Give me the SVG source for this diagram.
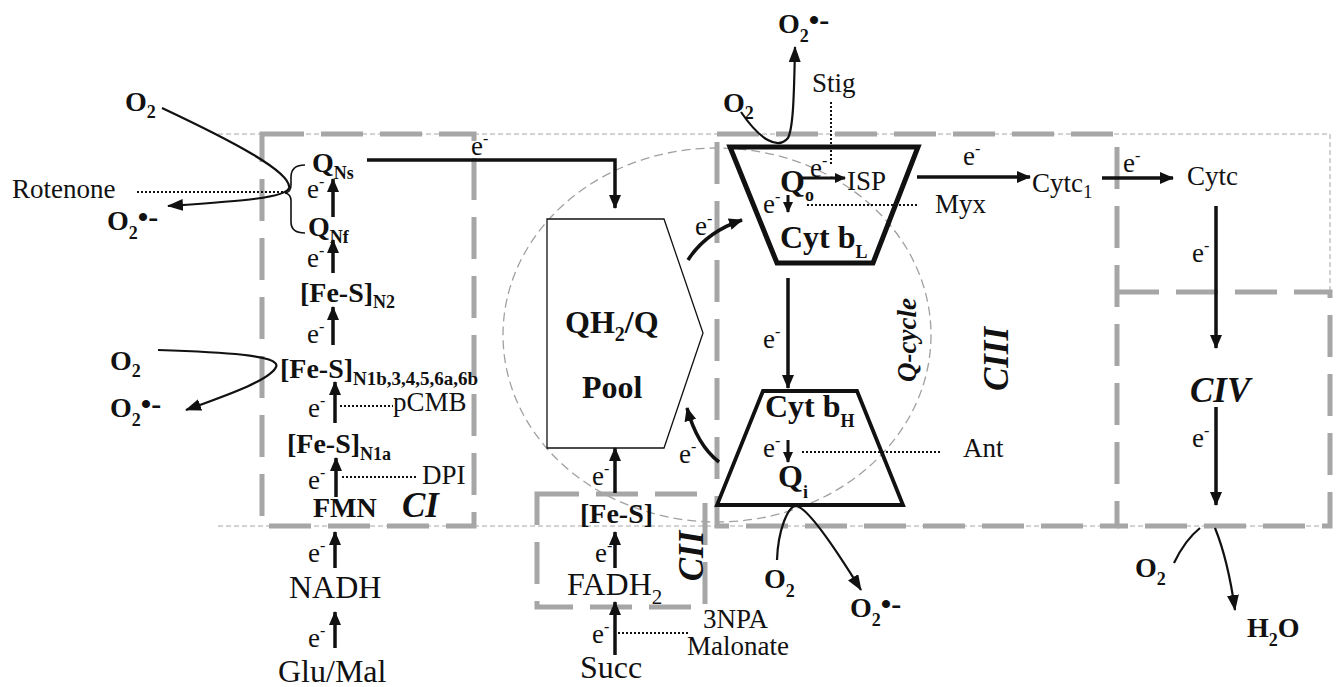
<svg xmlns="http://www.w3.org/2000/svg" width="1337" height="687" viewBox="0 0 1337 687">
<style>
text{font-family:"Liberation Serif","Times New Roman",serif;fill:#111}
.b{font-weight:bold;font-size:28px}
.bb{font-weight:bold;font-size:32px}
.r{font-size:27px}
.big{font-size:32px}
.e{font-size:27px}
.sup{font-size:16px}
.sb{font-size:18px;font-weight:bold}
.sr{font-size:19px}
.rad{font-size:30px;font-weight:bold}
.cx{font-weight:bold;font-style:italic;font-size:35px}
.box{fill:none;stroke:#a6a6a6;stroke-width:5;stroke-dasharray:42 17}
.mem{fill:none;stroke:#a8a8a8;stroke-width:1;stroke-dasharray:5 3}
.qc{fill:none;stroke:#a0a0a0;stroke-width:1.3;stroke-dasharray:9 5}
.arr{fill:none;stroke:#111;stroke-width:3.5;marker-end:url(#ah)}
.arrs{fill:none;stroke:#111;stroke-width:3;marker-end:url(#ahs)}
.cur{fill:none;stroke:#111;stroke-width:2.2;marker-end:url(#ah2)}
.thin{fill:none;stroke:#111;stroke-width:2.2}
.dot{fill:none;stroke:#111;stroke-width:2;stroke-dasharray:2 2}
</style>
<defs>
<marker id="ah" viewBox="0 0 14 12" refX="13" refY="6" markerWidth="14" markerHeight="12" markerUnits="userSpaceOnUse" orient="auto"><path d="M0,0L14,6L0,12z" fill="#111"/></marker>
<marker id="ahs" viewBox="0 0 11 10" refX="10" refY="5" markerWidth="11" markerHeight="10" markerUnits="userSpaceOnUse" orient="auto"><path d="M0,0L11,5L0,10z" fill="#111"/></marker>
<marker id="ah2" viewBox="0 0 16 12" refX="15" refY="6" markerWidth="16" markerHeight="12" markerUnits="userSpaceOnUse" orient="auto"><path d="M0,0L16,6L0,12z" fill="#111"/></marker>
</defs>

<g id="membrane">
<path class="mem" d="M218,134H1330V292"/>
<path class="mem" d="M218,526H1330"/>
<ellipse class="qc" cx="717" cy="335" rx="214" ry="187"/>
</g>

<g id="CI">
<rect class="box" x="262" y="134" width="212" height="392"/>
<text class="b" x="312" y="172">Q<tspan class="sb" y="179">Ns</tspan></text>
<text class="b" x="308" y="236">Q<tspan class="sb" y="243">Nf</tspan></text>
<text class="b" x="300" y="302">[Fe-S]<tspan class="sb" y="308">N2</tspan></text>
<text class="b" x="280" y="378">[Fe-S]</text>
<text class="sb" x="353" y="385" textLength="125" lengthAdjust="spacingAndGlyphs">N1b,3,4,5,6a,6b</text>
<text class="b" x="287" y="453">[Fe-S]<tspan class="sb" y="460">N1a</tspan></text>
<text class="b" x="313" y="517">FMN</text>
<text class="cx" x="402" y="517" font-size="33">CI</text>
<text class="big" x="289" y="598">NADH</text>
<text class="big" x="278" y="682">Glu/Mal</text>
<text class="r" x="12" y="198">Rotenone</text>
<text class="r" x="393" y="411">pCMB</text>
<text class="r" x="422" y="484">DPI</text>
<path d="M305,165Q291,165 291,177L291,185Q291,192 285,193Q291,194 291,201L291,222Q291,233 305,233" fill="none" stroke="#111" stroke-width="1.6"/>
<text class="b" x="125" y="111">O<tspan class="sb" y="118">2</tspan></text>
<text class="b" x="107" y="230">O<tspan class="sb" y="239">2</tspan><tspan class="rad" y="227">•-</tspan></text>
<text class="b" x="110" y="370">O<tspan class="sb" y="377">2</tspan></text>
<text class="b" x="110" y="417">O<tspan class="sb" y="426">2</tspan><tspan class="rad" y="414">•-</tspan></text>
</g>

<g id="pool">
<polygon points="547,219 664,219 703,333 664,448 547,448" fill="#fff" stroke="#111" stroke-width="1.3"/>
<text class="bb" x="565" y="333">QH<tspan font-size="20" y="341">2</tspan><tspan y="333">/Q</tspan></text>
<text class="bb" x="582" y="398">Pool</text>
</g>

<g id="CII">
<rect class="box" x="537" y="494" width="168" height="113"/>
<text class="b" x="580" y="523">[Fe-S]</text>
<text class="big" x="567" y="595">FADH<tspan font-size="21" y="604">2</tspan></text>
<text class="big" x="580" y="678">Succ</text>
<text class="cx" transform="translate(703,556) rotate(-90)" text-anchor="middle">CII</text>
<text class="r" x="703" y="628">3NPA</text>
<text class="r" x="687" y="655">Malonate</text>
</g>

<g id="CIII">
<rect class="box" x="717" y="134" width="400" height="392"/>
<polygon points="730,147 918,147 873,263 777,263" fill="none" stroke="#111" stroke-width="5" stroke-linejoin="miter"/>
<polygon points="763,391 857,391 903,505 717,505" fill="none" stroke="#111" stroke-width="3.8"/>
<text class="bb" x="780" y="192">Q<tspan class="sb" font-size="20" y="201">o</tspan></text>
<text class="r" x="847" y="190" font-size="32">ISP</text>
<text class="bb" x="780" y="248" font-size="34">Cyt b<tspan class="sb" font-size="20" y="258">L</tspan></text>
<text class="bb" x="765" y="417">Cyt b<tspan class="sb" font-size="20" y="427">H</tspan></text>
<text class="bb" x="778" y="487">Q<tspan class="sb" font-size="20" y="498">i</tspan></text>
<text class="r" x="812" y="92">Stig</text>
<text class="r" x="935" y="213">Myx</text>
<text class="r" x="963" y="457">Ant</text>
<text class="r" x="1032" y="192">Cytc<tspan class="sr" y="198">1</tspan></text>
<text transform="translate(916,340) rotate(-90)" text-anchor="middle" font-weight="bold" font-style="italic" font-size="27">Q-cycle</text>
<text class="cx" transform="translate(1008,359) rotate(-90)" text-anchor="middle" font-size="36">CIII</text>
<text class="b" x="723" y="112" font-size="29">O<tspan class="sb" y="119">2</tspan></text>
<text class="b" x="778" y="33" font-size="29">O<tspan class="sb" y="42">2</tspan><tspan class="rad" y="30">•-</tspan></text>
<text class="b" x="764" y="588" font-size="29">O<tspan class="sb" y="597">2</tspan></text>
<text class="b" x="850" y="617" font-size="29">O<tspan class="sb" y="626">2</tspan><tspan class="rad" y="614">•-</tspan></text>
</g>

<g id="CIV">
<path class="box" d="M1117,292H1330V526H1117"/>
<text class="r" x="1187" y="185" font-size="28">Cytc</text>
<text class="cx" x="1190" y="402" font-size="36">CIV</text>
<text class="b" x="1135" y="577" font-size="29">O<tspan class="sb" y="585">2</tspan></text>
<text class="b" x="1247" y="637" font-size="29">H<tspan class="sb" y="646">2</tspan><tspan y="637">O</tspan></text>
</g>

<g id="connectors">
<path class="arr" d="M333,217L333,179"/>
<path class="arr" d="M333,273L333,240"/>
<path class="arr" d="M333,345L333,307"/>
<path class="arr" d="M335,423L335,382"/>
<path class="arr" d="M336,497L336,458"/>
<path class="arr" d="M335,568L335,532"/>
<path class="arr" d="M335,648L335,612"/>
<path class="dot" d="M137,192H287"/>
<path class="dot" d="M340,406H393"/>
<path class="dot" d="M342,477H418"/>
<path class="arr" d="M367,160H615V208" stroke-width="3"/>
<path class="cur" d="M162,108C230,140 292,172 289,188C286,198 240,201 168,206"/>
<path class="cur" d="M158,350C220,352 282,355 276,367C270,380 230,394 186,410"/>
<path class="arr" d="M688,260Q706,232 742,220" stroke-width="3"/>
<path class="arr" d="M719,462Q697,445 687,408" stroke-width="3"/>
<path class="arr" d="M615,493L615,448"/>
<path class="arr" d="M615,568L615,532"/>
<path class="arr" d="M615,655L615,602"/>
<path class="dot" d="M618,633H690"/>
<path class="arrs" d="M802,178L845,178"/>
<path class="arrs" d="M788,195L788,212"/>
<path class="arr" d="M917,177L1030,177"/>
<path class="arr" d="M788,278L788,388" stroke-width="3"/>
<path class="arrs" d="M788,440L788,462"/>
<path class="dot" d="M807,205H918"/>
<path class="dot" d="M831,102V165"/>
<path class="dot" d="M802,452H940"/>
<path class="cur" d="M741,112C760,140 778,150 788,138C793,128 794,100 795,47"/>
<path class="cur" d="M777,560C778,530 788,506 796,506C808,507 840,556 861,590"/>
<path class="arr" d="M1102,178L1173,178"/>
<path class="arr" d="M1216,206L1216,348" stroke-width="3"/>
<path class="arr" d="M1216,407L1216,505" stroke-width="3"/>
<path class="thin" d="M1174,563Q1185,540 1200,528"/>
<path class="cur" d="M1215,528Q1228,560 1235,610"/>
</g>

<g id="electron-labels">
<text class="e" x="307" y="198">e<tspan class="sup" dy="-11">-</tspan></text>
<text class="e" x="307" y="267">e<tspan class="sup" dy="-11">-</tspan></text>
<text class="e" x="307" y="343">e<tspan class="sup" dy="-11">-</tspan></text>
<text class="e" x="308" y="417">e<tspan class="sup" dy="-11">-</tspan></text>
<text class="e" x="308" y="489">e<tspan class="sup" dy="-11">-</tspan></text>
<text class="e" x="308" y="562">e<tspan class="sup" dy="-11">-</tspan></text>
<text class="e" x="308" y="647">e<tspan class="sup" dy="-11">-</tspan></text>
<text class="e" x="471" y="155">e<tspan class="sup" dy="-11">-</tspan></text>
<text class="e" x="695" y="235">e<tspan class="sup" dy="-11">-</tspan></text>
<text class="e" x="679" y="463">e<tspan class="sup" dy="-11">-</tspan></text>
<text class="e" x="592" y="485">e<tspan class="sup" dy="-11">-</tspan></text>
<text class="e" x="595" y="562">e<tspan class="sup" dy="-11">-</tspan></text>
<text class="e" x="592" y="643">e<tspan class="sup" dy="-11">-</tspan></text>
<text class="e" x="810" y="177">e<tspan class="sup" dy="-11">-</tspan></text>
<text class="e" x="763" y="213">e<tspan class="sup" dy="-11">-</tspan></text>
<text class="e" x="963" y="165">e<tspan class="sup" dy="-11">-</tspan></text>
<text class="e" x="763" y="348">e<tspan class="sup" dy="-11">-</tspan></text>
<text class="e" x="763" y="457">e<tspan class="sup" dy="-11">-</tspan></text>
<text class="e" x="1123" y="172">e<tspan class="sup" dy="-11">-</tspan></text>
<text class="e" x="1192" y="262">e<tspan class="sup" dy="-11">-</tspan></text>
<text class="e" x="1192" y="447">e<tspan class="sup" dy="-11">-</tspan></text>
</g>
</svg>
